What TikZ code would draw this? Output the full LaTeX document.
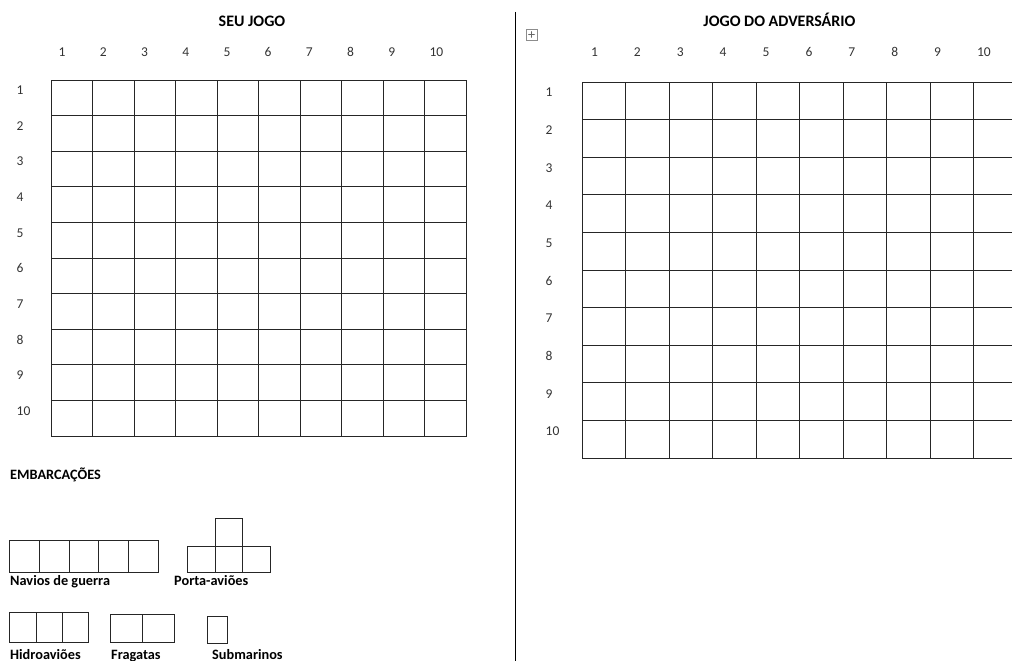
\documentclass[tikz,border=0pt]{standalone}
\usepackage{fontspec}
\setmainfont{Carlito}
\usetikzlibrary{arrows.meta, positioning}

\tikzset{
  cell/.style={draw=black!85, line width=0.8pt},
  num/.style={anchor=base west, inner sep=0pt, font=\fontsize{13.5}{15}\selectfont, text=black!80},
  title/.style={anchor=base, inner sep=0pt, font=\bfseries\fontsize{16}{18}\selectfont},
  shiplabel/.style={anchor=base west, inner sep=0pt, font=\bfseries\fontsize{14.3}{16}\selectfont},
}

\begin{document}
\begin{tikzpicture}[x=1pt, y=-1pt]
  \useasboundingbox (0,0) rectangle (1012,661);
  \clip (0,0) rectangle (1012,661);

  % seu jogo
  \node[title] (seujogo) at (252,26.7) {SEU JOGO};
  \foreach \i in {1,...,10} {
    \node[num] (sc\i) at ({58.5+(\i-1)*41.2},56.7) {\i};
    \node[num] (sr\i) at (16.5,{94.3+(\i-1)*35.7}) {\i};
  }
  \foreach \i in {0,...,9}
    \foreach \j in {0,...,9}
      \draw[cell] ({51+\i*41.5},{80+\j*35.6}) rectangle ++(41.5,35.6);

  % separador
  \coordinate (septop) at (515,12);
  \coordinate (sepbot) at (515,661);
  \draw[line width=0.9pt] (septop) -- (sepbot);

  % alca da tabela
  \draw[black!45, line width=0.5pt] (526,29) rectangle (537,40);
  \draw[black!60, line width=0.4pt, {Stealth[length=1.5pt]}-{Stealth[length=1.5pt]}] (528,34.5) -- (535,34.5);
  \draw[black!60, line width=0.4pt, {Stealth[length=1.5pt]}-{Stealth[length=1.5pt]}] (531.5,31) -- (531.5,38);

  % jogo do adversario
  \node[title] (advers) at (779.5,26.7) {JOGO DO ADVERSÁRIO};
  \foreach \i in {1,...,10} {
    \node[num] (ac\i) at ({590.8+(\i-1)*42.9},56.7) {\i};
    \node[num] (ar\i) at (545.5,{96.7+(\i-1)*37.67}) {\i};
  }
  \foreach \i in {0,...,9}
    \foreach \j in {0,...,9}
      \draw[cell] ({582+\i*43.5},{82+\j*37.6}) rectangle ++(43.5,37.6);

  % embarcacoes
  \node[shiplabel] (embarc) at (10,479) {EMBARCAÇÕES};

  \foreach \i in {0,...,4}
    \draw[cell] ({9.5+\i*29.7},540) rectangle ++(29.7,32);
  \node[shiplabel] (navios) at (10,585.5) {Navios de guerra};

  \foreach \i in {0,...,2}
    \draw[cell] ({187.7+\i*27.5},546) rectangle ++(27.5,26);
  \draw[cell] (215.2,518) rectangle ++(27.5,28);
  \node[shiplabel] (porta) at (174,585.5) {Porta-aviões};

  \foreach \i in {0,...,2}
    \draw[cell] ({9.5+\i*26.4},612) rectangle ++(26.4,30);
  \node[shiplabel] (hidro) at (10,659) {Hidroaviões};

  \foreach \i in {0,1}
    \draw[cell] ({110.3+\i*32},614) rectangle ++(32,28);
  \node[shiplabel] (fragatas) at (111,659) {Fragatas};

  \draw[cell] (207.3,616.5) rectangle (227.7,643);
  \node[shiplabel] (subm) at (212,659) {Submarinos};
\end{tikzpicture}
\end{document}
